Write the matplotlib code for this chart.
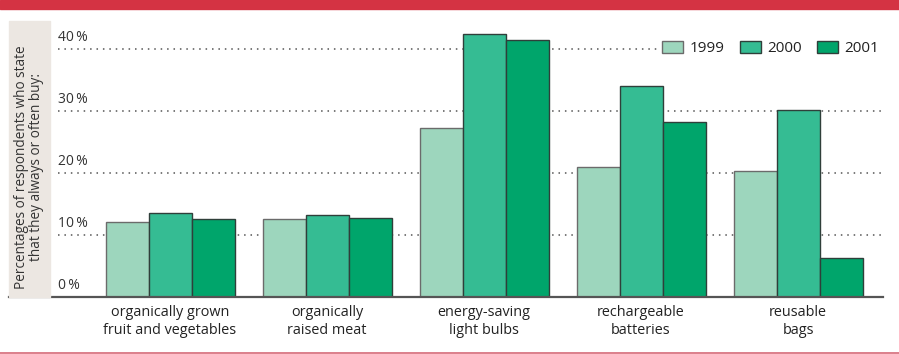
import numpy as np
import matplotlib
matplotlib.use('Agg')
from matplotlib import pyplot as plt
from matplotlib.patches import Rectangle

plt.rcParams['font.family'] = ['Open Sans', 'DejaVu Sans']

categories = ['organically grown\nfruit and vegetables', 'organically\nraised meat',
              'energy-saving\nlight bulbs', 'rechargeable\nbatteries', 'reusable\nbags']
years = ['1999', '2000', '2001']
v1999 = [12.1, 12.6, 27.3, 20.9, 20.3]
v2000 = [13.5, 13.2, 42.5, 34.0, 30.1]
v2001 = [12.6, 12.8, 41.4, 28.3, 6.3]
yticks = [0, 10, 20, 30, 40]

colors = ['#9dd6bd', '#35bc93', '#00a56b']
edges = ['#6b6b6b', '#2f3f3a', '#2f3f3a']

W, H = 899, 354
fig = plt.figure(figsize=(W / 100, H / 100), dpi=100)

# red header band and thin red rule at the bottom
fig.patches.append(Rectangle((0, 1 - 9 / H), 1, 9 / H, transform=fig.transFigure,
                             color='#d43343', zorder=0))
fig.lines.append(plt.Line2D([0, 1], [1.2 / H, 1.2 / H], transform=fig.transFigure,
                            color='#d66a78', lw=1.2))

# grey box behind the y label
fig.patches.append(Rectangle((9 / W, (H - 297) / H), 41 / W, 276 / H,
                             transform=fig.transFigure, color='#ece7e2', zorder=0))

ax = fig.add_axes([9 / W, (H - 297) / H, 874 / W, 276 / H])
ax.patch.set_alpha(0)

x = np.arange(len(categories))
w = 43 / 157
for i, (vals, yr) in enumerate(zip([v1999, v2000, v2001], years)):
    ax.bar(x + (i - 1) * w, vals, width=w, color=colors[i], edgecolor=edges[i],
           linewidth=1.0, label=yr, zorder=3)

ax.set_xlim(-(170 - 9) / 157, 4 + (883 - 798) / 157)
ax.set_ylim(0, 276 / 6.2)

# dotted gridlines starting right of the grey box
x0 = (58 - 9) / 874
for t in yticks:
    if t > 0:
        ax.plot([x0, 1], [t, t], transform=ax.get_yaxis_transform(),
                color='#555555', lw=1.1, linestyle=(0, (1, 3.2)), zorder=1)
    ax.text(x0, t + 0.6, f'{t}\u2009%', transform=ax.get_yaxis_transform(),
            ha='left', va='bottom', fontsize=10, color='#333333')

for s in ['top', 'right', 'left']:
    ax.spines[s].set_visible(False)
ax.spines['bottom'].set_color('#555555')
ax.spines['bottom'].set_linewidth(1.6)
ax.spines['bottom'].set_zorder(4)
ax.set_yticks([])
ax.set_xticks(x, categories, fontsize=10.4, color='#222222', linespacing=1.2)
ax.tick_params(axis='x', length=0, pad=6)

fig.text(29 / W, (H - 167) / H,
         'Percentages of respondents who state\nthat they always or often buy:',
         rotation=90, ha='center', va='center', fontsize=9.8, color='#333333',
         linespacing=1.05)

leg = ax.legend(loc='upper right', bbox_to_anchor=(890 / W, (H - 30) / H),
                bbox_transform=fig.transFigure, ncol=3, fontsize=11,
                frameon=True, facecolor='white', edgecolor='none', framealpha=1,
                handlelength=1.4, handleheight=0.9, handletextpad=0.4,
                columnspacing=1.0, borderpad=0.2)
leg.set_zorder(5)
for t in leg.get_texts():
    t.set_color('#222222')

fig.savefig('out.png', dpi=100)
